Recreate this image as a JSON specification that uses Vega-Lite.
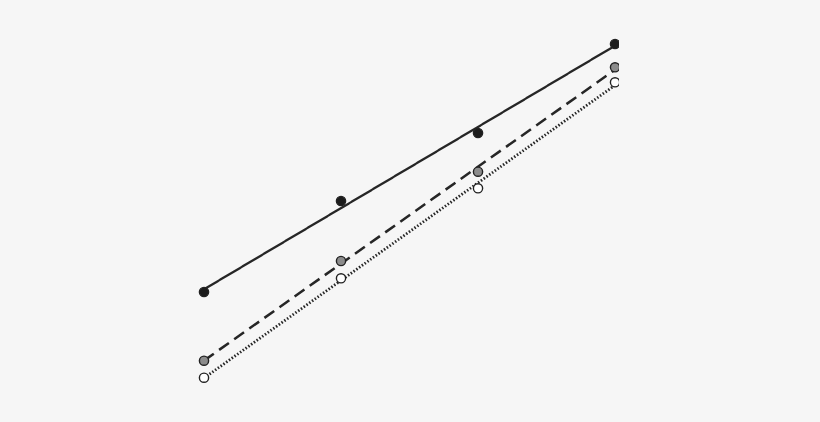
{
  "$schema": "https://vega.github.io/schema/vega-lite/v6.json",
  "autosize": "none",
  "width": 619,
  "height": 422,
  "padding": {"left": 0, "top": 0, "right": 201, "bottom": 0},
  "background": "#f6f6f6",
  "data": {
    "values": [
      {"series": "A", "x": 1, "y": 130},
      {"series": "A", "x": 2, "y": 221},
      {"series": "A", "x": 3, "y": 289},
      {"series": "A", "x": 4, "y": 378},
      {"series": "B", "x": 1, "y": 61.3},
      {"series": "B", "x": 2, "y": 161},
      {"series": "B", "x": 3, "y": 250.3},
      {"series": "B", "x": 4, "y": 354.7},
      {"series": "C", "x": 1, "y": 44.3},
      {"series": "C", "x": 2, "y": 143.7},
      {"series": "C", "x": 3, "y": 233.7},
      {"series": "C", "x": 4, "y": 339.7}
    ]
  },
  "encoding": {
    "x": {
      "field": "x", "type": "quantitative",
      "scale": {"domain": [-0.489, 4.029], "nice": false, "zero": false},
      "axis": null
    },
    "y": {
      "field": "y", "type": "quantitative",
      "scale": {"domain": [0, 422], "nice": false},
      "axis": null
    }
  },
  "layer": [
    {
      "transform": [
        {"regression": "y", "on": "x", "groupby": ["series"], "extent": [1, 4]}
      ],
      "mark": {"type": "line", "color": "#262626"},
      "encoding": {
        "strokeDash": {
          "field": "series", "type": "nominal",
          "scale": {"domain": ["A", "B", "C"], "range": [[1, 0], [12, 6.5], [1.5, 1.9]]},
          "legend": null
        },
        "strokeWidth": {
          "field": "series", "type": "nominal",
          "scale": {"domain": ["A", "B", "C"], "range": [2.3, 2.8, 2.6]},
          "legend": null
        }
      }
    },
    {
      "mark": {"type": "point", "filled": true, "size": 85, "stroke": "#222222", "strokeWidth": 1.4, "opacity": 1, "clip": true},
      "encoding": {
        "fill": {
          "field": "series", "type": "nominal",
          "scale": {"domain": ["A", "B", "C"], "range": ["#1c1c1c", "#8c8c8c", "#ffffff"]},
          "legend": null
        }
      }
    }
  ],
  "config": {
    "view": {"stroke": null}
  }
}
